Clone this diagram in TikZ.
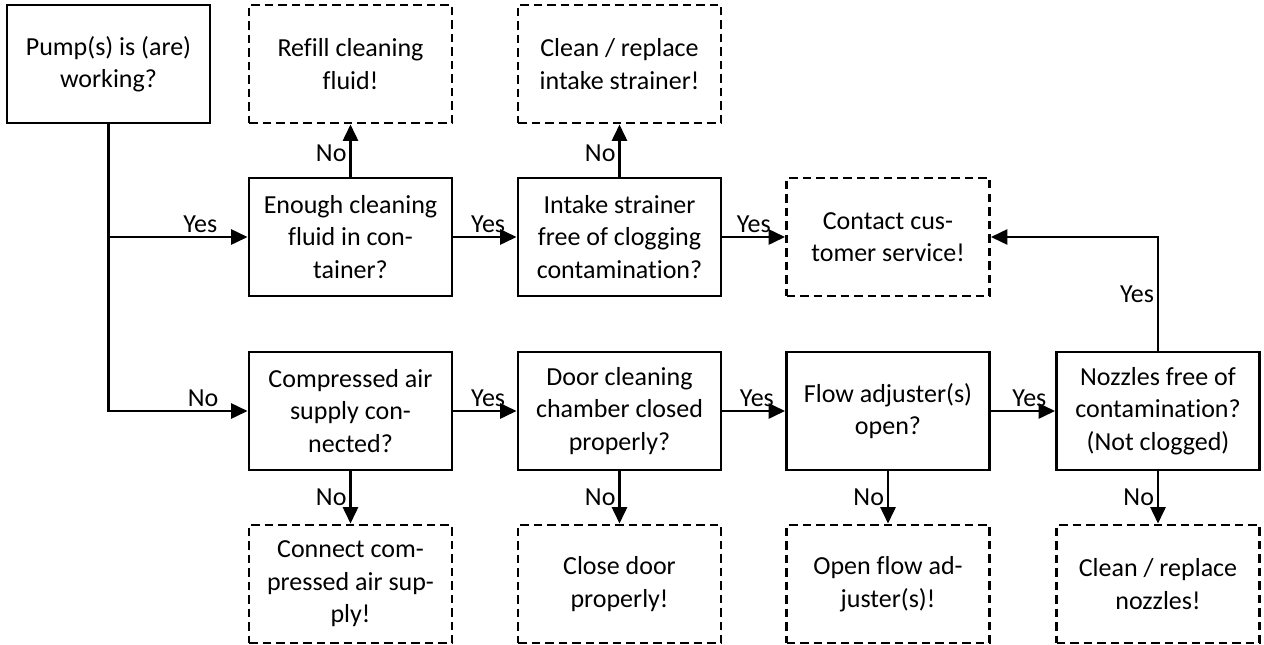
\documentclass[tikz,border=0pt]{standalone}
\usepackage{fontspec}
\setmainfont[Ligatures=NoCommon]{Carlito}
\usepackage{tikz}
\usetikzlibrary{arrows.meta,positioning}

\begin{document}
\begin{tikzpicture}[font=\fontsize{14.8pt}{18.5pt}\selectfont,
  query/.style={draw, line width=1.6pt, minimum width=4.06cm, minimum height=2.36cm, align=center, inner sep=0pt},
  todo/.style={query, dash pattern=on 0.17cm off 0.1cm},
  arr/.style={line width=1.6pt, -{Triangle[length=0.33cm,width=0.3cm]}},
  lbl/.style={inner sep=1.5pt}]
\useasboundingbox (0,0) rectangle (25.28,-12.9);
%start
\node[query] (pump) at (2.17,-1.28) {Pump(s) is (are)\\working?};
%upper branch: pump is working
\node[query] (fluid) at (7.01,-4.74) {Enough cleaning\\fluid in con-\\tainer?};
\node[todo] (refill) at (7.01,-1.28) {Refill cleaning\\fluid!};
\node[query] (strainer) at (12.39,-4.74) {Intake strainer\\free of clogging\\contamination?};
\node[todo] (cleanstr) at (12.39,-1.28) {Clean / replace\\intake strainer!};
\node[todo] (service) at (17.76,-4.74) {Contact cus-\\tomer service!};
%lower branch: pump not working
\node[query] (air) at (7.01,-8.22) {Compressed air\\supply con-\\nected?};
\node[todo] (connair) at (7.01,-11.68) {Connect com-\\pressed air sup-\\ply!};
\node[query] (door) at (12.39,-8.22) {Door cleaning\\chamber closed\\properly?};
\node[todo] (closedoor) at (12.39,-11.68) {Close door\\properly!};
\node[query] (flow) at (17.76,-8.22) {Flow adjuster(s)\\open?};
\node[todo] (openflow) at (17.76,-11.68) {Open flow ad-\\juster(s)!};
\node[query] (nozzles) at (23.16,-8.22) {Nozzles free of\\contamination?\\(Not clogged)};
\node[todo] (cleannoz) at (23.16,-11.68) {Clean / replace\\nozzles!};
%connectors
\coordinate (split) at (pump.south |- fluid.west);
\draw[arr] (pump.south) |- node[lbl, above, pos=0.84] {No} (air.west);
\draw[arr] (split) -- node[lbl, above, pos=0.66] {Yes} (fluid.west);
\draw[arr] (fluid) -- node[lbl, above, pos=0.55] {Yes} (strainer);
\draw[arr] (strainer) -- node[lbl, above, pos=0.5] {Yes} (service);
\draw[arr] (fluid) -- node[lbl, left, pos=0.45] {No} (refill);
\draw[arr] (strainer) -- node[lbl, left, pos=0.45] {No} (cleanstr);
\draw[arr] (air) -- node[lbl, above, pos=0.55] {Yes} (door);
\draw[arr] (door) -- node[lbl, above, pos=0.55] {Yes} (flow);
\draw[arr] (flow) -- node[lbl, above, pos=0.6] {Yes} (nozzles);
\draw[arr] (air) -- node[lbl, left] {No} (connair);
\draw[arr] (door) -- node[lbl, left] {No} (closedoor);
\draw[arr] (flow) -- node[lbl, left] {No} (openflow);
\draw[arr] (nozzles) -- node[lbl, left] {No} (cleannoz);
\draw[arr] (nozzles.north) |- node[lbl, left, pos=0.25] {Yes} (service.east);
\end{tikzpicture}
\end{document}
